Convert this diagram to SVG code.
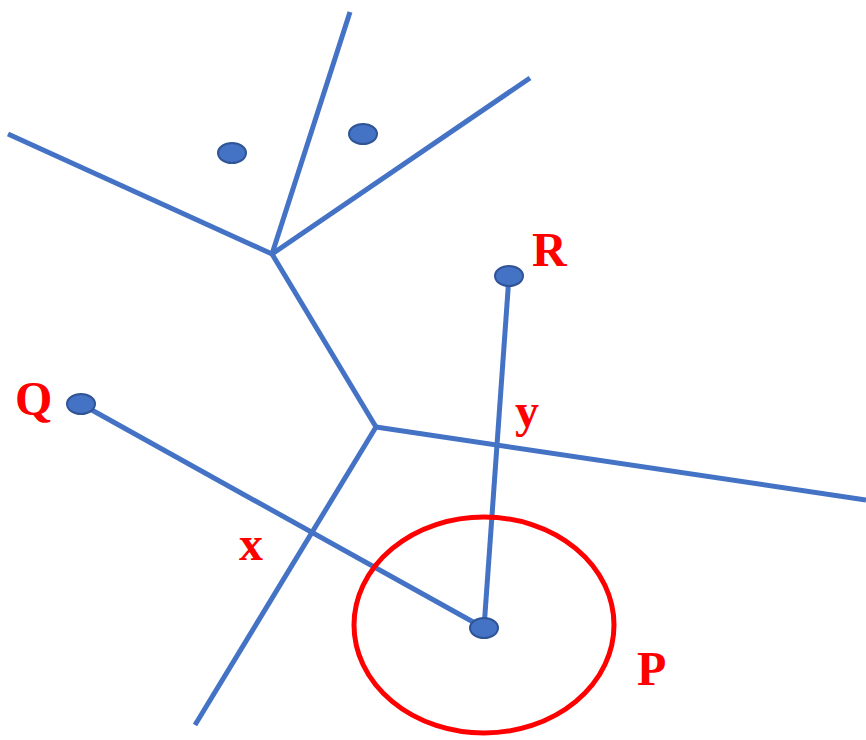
<svg xmlns="http://www.w3.org/2000/svg" width="866" height="740" viewBox="0 0 866 740">
<style>
.edge{stroke:#4472C4;stroke-width:5;fill:none;stroke-linecap:butt}
.dot{fill:#4472C4;stroke:#2F5597;stroke-width:2}
.lbl{font-family:"Liberation Serif","Times New Roman",serif;font-weight:bold;font-size:48px;fill:#FF0000}
</style>
<rect width="866" height="740" fill="#FFFFFF"/>
<g id="connectors">
<line class="edge" x1="272" y1="254" x2="350" y2="12"/>
<line class="edge" x1="272" y1="254" x2="530" y2="78"/>
<line class="edge" x1="272" y1="254" x2="8" y2="134"/>
<line class="edge" x1="272" y1="254" x2="376" y2="427"/>
<line class="edge" x1="376" y1="427" x2="866" y2="500"/>
<line class="edge" x1="376" y1="427" x2="195" y2="725"/>
<line class="edge" x1="81" y1="404" x2="484" y2="628"/>
<line class="edge" x1="509" y1="276" x2="484" y2="628"/>
</g>
<g id="circleP"><ellipse cx="484" cy="625" rx="130" ry="108" fill="none" stroke="#FF0000" stroke-width="5"/></g>
<g id="dot1"><ellipse class="dot" cx="232" cy="153" rx="14" ry="10"/></g>
<g id="dot2"><ellipse class="dot" cx="363" cy="134" rx="14" ry="10"/></g>
<g id="nodeR"><ellipse class="dot" cx="509" cy="276" rx="14" ry="10"/><text class="lbl" x="532" y="266">R</text></g>
<g id="nodeQ"><ellipse class="dot" cx="81" cy="404" rx="14" ry="10"/><text class="lbl" x="15" y="415">Q</text></g>
<g id="nodeP"><ellipse class="dot" cx="484" cy="628" rx="14" ry="10"/><text class="lbl" x="637" y="685">P</text></g>
<g id="labelX"><text class="lbl" x="239" y="560">x</text></g>
<g id="labelY"><text class="lbl" x="515" y="427">y</text></g>
</svg>
